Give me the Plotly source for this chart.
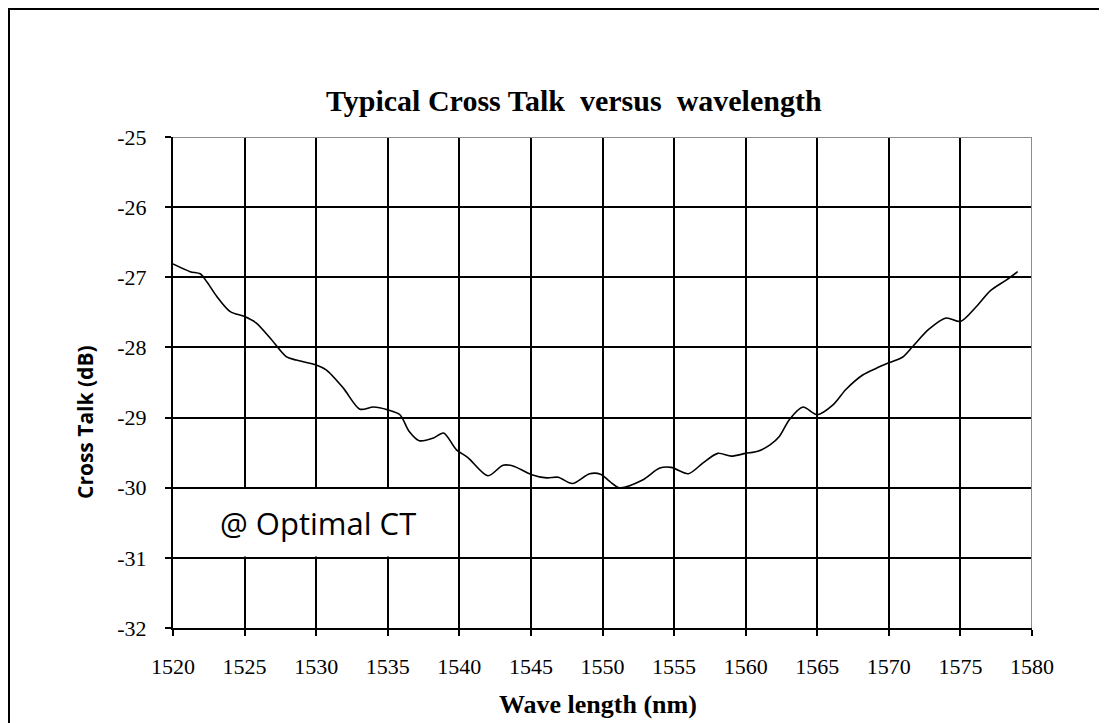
import plotly.graph_objects as go

wavelength = [1520.0, 1521.2, 1521.9, 1522.35, 1523.05, 1524.0, 1525.0, 1525.8, 1526.8, 1527.9,
              1528.6, 1530.0, 1530.7, 1531.9, 1533.05, 1534.0, 1535.0, 1535.85, 1536.5, 1537.2,
              1538.2, 1538.9, 1539.8, 1540.6, 1542.0, 1543.05, 1543.75, 1545.0, 1546.1, 1546.9,
              1547.9, 1549.1, 1549.9, 1550.5, 1551.2, 1552.8, 1554.0, 1554.8, 1556.0, 1557.0,
              1558.05, 1559.0, 1560.0, 1560.85, 1561.7, 1562.35, 1563.05, 1564.0, 1565.0, 1566.1,
              1567.0, 1568.2, 1569.1, 1570.0, 1570.95, 1571.65, 1572.8, 1574.0, 1575.0, 1576.1,
              1577.1, 1578.2, 1579.0]
crosstalk = [-26.81, -26.92, -26.95, -27.06, -27.27, -27.49, -27.56, -27.65, -27.87, -28.13,
             -28.18, -28.25, -28.32, -28.58, -28.88, -28.85, -28.89, -28.96, -29.20, -29.33,
             -29.29, -29.22, -29.46, -29.57, -29.83, -29.68, -29.69, -29.81, -29.86, -29.85,
             -29.94, -29.80, -29.81, -29.91, -30.00, -29.89, -29.72, -29.71, -29.80, -29.65,
             -29.51, -29.55, -29.51, -29.48, -29.39, -29.27, -29.03, -28.85, -28.96, -28.82,
             -28.60, -28.39, -28.30, -28.22, -28.14, -27.99, -27.74, -27.58, -27.63, -27.42,
             -27.19, -27.04, -26.92]

x_ticks = list(range(1520, 1581, 5))
y_ticks = list(range(-32, -24, 1))

title_text = "Typical Cross Talk  versus  wavelength"
x_title = "Wave length (nm)"
y_title = "Cross Talk (dB)"
note_text = "@ Optimal CT"

# page offset (browser default body margin)
OFF = 8
L, T, PW, PH = 173 - OFF, 137 - OFF, 859, 491
W, H = 1107 - OFF, 723 - OFF


def px(xpix):
    return (xpix - OFF - L) / PW


def py(ypix):
    return 1 - (ypix - OFF - T) / PH


fig = go.Figure()
fig.add_trace(go.Scatter(
    x=wavelength, y=crosstalk, mode="lines",
    line=dict(color="black", width=1.6, shape="spline", smoothing=0.8),
    showlegend=False, hoverinfo="skip"))

serif = "Liberation Serif, Times New Roman, serif"

fig.update_layout(
    width=W, height=H,
    margin=dict(l=L, r=W - L - PW, t=T, b=H - T - PH),
    paper_bgcolor="white", plot_bgcolor="white",
    showlegend=False,
)
fig.update_xaxes(
    range=[1520, 1580], tickvals=x_ticks, ticktext=[str(v) for v in x_ticks],
    showgrid=True, gridcolor="black", gridwidth=2,
    showline=True, linecolor="black", linewidth=2, mirror=False,
    ticks="outside", ticklen=6, tickwidth=2, tickcolor="black",
    ticklabelstandoff=12,
    tickfont=dict(family=serif, size=22, color="black"),
    zeroline=False,
)
fig.update_yaxes(
    range=[-32, -25], tickvals=y_ticks, ticktext=[str(v) for v in y_ticks],
    showgrid=True, gridcolor="black", gridwidth=2,
    showline=True, linecolor="black", linewidth=2, mirror=False,
    ticks="outside", ticklen=6, tickwidth=2, tickcolor="black",
    ticklabelstandoff=14,
    tickfont=dict(family=serif, size=22, color="black"),
    zeroline=False,
)

shapes = [
    dict(type="line", xref="x", yref="y", x0=1520, x1=1580, y0=-25, y1=-25,
         line=dict(color="#8c8c8c", width=2), layer="above"),
    dict(type="line", xref="x", yref="y", x0=1580, x1=1580, y0=-25, y1=-32,
         line=dict(color="#8c8c8c", width=2), layer="above"),
    dict(type="rect", xref="x", yref="y", x0=1520.15, x1=1539.9, y0=-30.02, y1=-30.98,
         fillcolor="white", line=dict(width=0), layer="above"),
    # outer frame: top and left edges (right/bottom lie beyond the picture)
    dict(type="line", xref="paper", yref="paper",
         x0=px(8), x1=px(1200), y0=py(9), y1=py(9),
         line=dict(color="black", width=2), layer="above"),
    dict(type="line", xref="paper", yref="paper",
         x0=px(9), x1=px(9), y0=py(8), y1=py(800),
         line=dict(color="black", width=2), layer="above"),
]
fig.update_layout(shapes=shapes)

annotations = [
    dict(text="<b>" + title_text + "</b>", xref="paper", yref="paper",
         x=px(574), y=py(100), xanchor="center", yanchor="middle",
         showarrow=False, font=dict(family=serif, size=30, color="black")),
    dict(text="<b>" + x_title + "</b>", xref="paper", yref="paper",
         x=px(598), y=py(704), xanchor="center", yanchor="middle",
         showarrow=False, font=dict(family=serif, size=26, color="black")),
    dict(text="<b>" + y_title + "</b>", xref="paper", yref="paper",
         x=px(85), y=py(422), xanchor="center", yanchor="middle",
         textangle=-90, showarrow=False,
         font=dict(family="Open Sans, sans-serif", size=21, color="black")),
    dict(text=note_text, xref="paper", yref="y", x=px(218), y=-30.5,
         xanchor="left", yanchor="middle", showarrow=False,
         font=dict(family="Open Sans, sans-serif", size=31, color="black")),
]
fig.update_layout(annotations=annotations)

fig.write_html("out.html")
